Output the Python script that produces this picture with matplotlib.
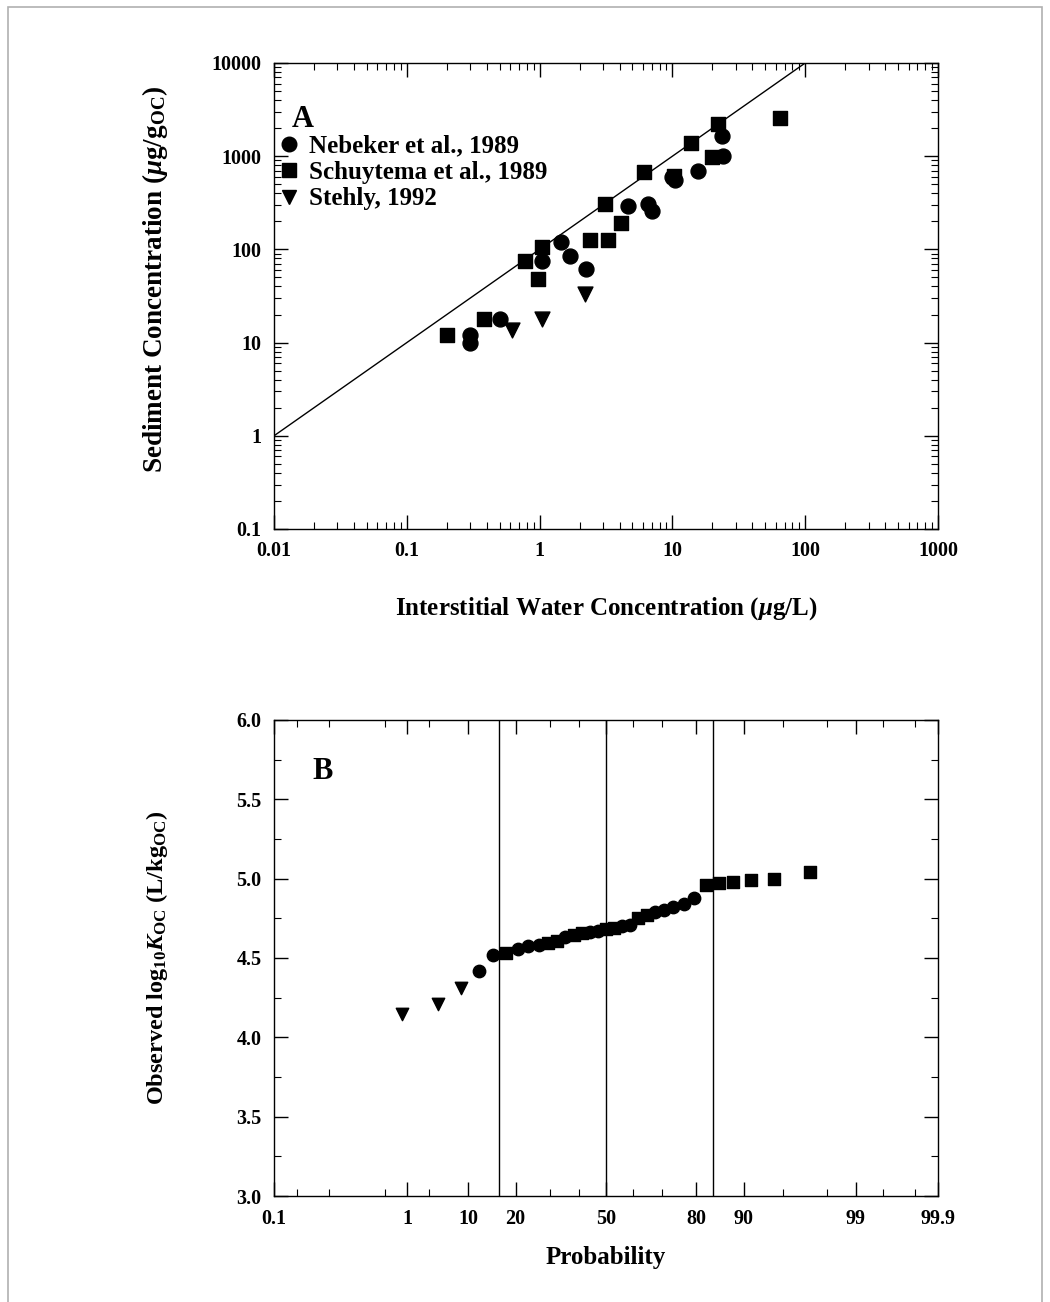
import numpy as np
import matplotlib
matplotlib.use('Agg')
import matplotlib.pyplot as plt
from matplotlib.lines import Line2D
from matplotlib.patches import Rectangle
from statistics import NormalDist

plt.rcParams['font.family'] = ['Liberation Serif', 'DejaVu Serif']
plt.rcParams['font.weight'] = 'bold'
plt.rcParams['mathtext.fontset'] = 'custom'
plt.rcParams['mathtext.rm'] = 'Liberation Serif:bold'
plt.rcParams['mathtext.it'] = 'Liberation Serif:italic:bold'
plt.rcParams['mathtext.bf'] = 'Liberation Serif:bold'

# ---------------- Panel A data ----------------
neb_water = [0.30, 0.30, 0.50, 1.05, 1.45, 1.70, 2.25, 4.6, 6.6, 7.0, 10.0, 10.5, 15.5, 23.5, 24.0]
neb_sed = [12, 10, 18, 75, 120, 85, 62, 290, 310, 260, 600, 560, 700, 1650, 1000]

sch_water = [0.20, 0.38, 0.78, 0.97, 1.05, 2.4, 3.3, 3.1, 4.1, 6.1, 10.2, 13.8, 20.0, 22.0, 65.0]
sch_sed = [12, 18, 75, 48, 105, 125, 125, 310, 190, 680, 620, 1400, 980, 2200, 2600]

ste_water = [0.62, 1.05, 2.2]
ste_sed = [13.5, 18, 33]

line_water = [0.01, 1000]
line_koc = 100  # ug/g_oc per ug/L

a_xticks = [0.01, 0.1, 1, 10, 100, 1000]
a_xlabels = ['0.01', '0.1', '1', '10', '100', '1000']
a_yticks = [0.1, 1, 10, 100, 1000, 10000]
a_ylabels = ['0.1', '1', '10', '100', '1000', '10000']

legend_labels = ['Nebeker et al., 1989', 'Schuytema et al., 1989', 'Stehly, 1992']

# ---------------- Panel B data ----------------
b_prob = [2.9, 5.9, 8.8, 11.8, 14.7, 17.6, 20.6, 23.5, 26.5, 29.4, 32.4, 35.3, 38.2, 41.2,
          44.1, 47.1, 50.0, 52.9, 55.9, 58.8, 61.8, 64.7, 67.6, 70.6, 73.5, 76.5, 79.4,
          82.4, 85.3, 88.2, 91.2, 94.1, 97.1]
b_logkoc = [4.15, 4.21, 4.31, 4.42, 4.52, 4.53, 4.555, 4.575, 4.585, 4.595, 4.61, 4.63,
            4.645, 4.655, 4.665, 4.672, 4.68, 4.69, 4.70, 4.71, 4.75, 4.77, 4.79, 4.80,
            4.82, 4.84, 4.88, 4.96, 4.97, 4.98, 4.99, 5.00, 5.04]
b_study = ['T', 'T', 'T', 'C', 'C', 'S', 'C', 'C', 'C', 'S', 'S', 'C', 'S', 'S', 'C', 'C',
           'S', 'S', 'C', 'C', 'S', 'S', 'C', 'C', 'C', 'C', 'C', 'S', 'S', 'S', 'S', 'S', 'S']

b_vlines = [15.87, 50.0, 84.13]
b_xticks = [0.1, 3.2, 10, 20, 50, 80, 90, 99, 99.9]
b_xlabels = ['0.1', '1', '10', '20', '50', '80', '90', '99', '99.9']
b_xminor = [0.2, 0.5, 2, 5, 30, 40, 60, 70, 95, 98, 99.5, 99.8]
b_yticks = [3.0, 3.5, 4.0, 4.5, 5.0, 5.5, 6.0]
b_yminor = [3.25, 3.75, 4.25, 4.75, 5.25, 5.75]

marker_of = {'C': 'o', 'S': 's', 'T': 'v'}

# ---------------- Figure ----------------
fig = plt.figure(figsize=(10.5, 13.02), dpi=100)

border = Rectangle((8 / 1050, -0.01), (1042 - 8) / 1050, 1 - 7 / 1302 + 0.01,
                   transform=fig.transFigure, fill=False, edgecolor='#b0b0b0', lw=1.2)
fig.patches.append(border)

tick_fs = 14.5
label_fs = 18

# Panel A
axA = fig.add_axes([274 / 1050, 1 - 529 / 1302, 664 / 1050, 466 / 1302])
axA.set_xscale('log')
axA.set_yscale('log')
axA.set_xlim(0.01, 1000)
axA.set_ylim(0.1, 10000)

lw_arr = np.array(line_water)
axA.plot(lw_arr, lw_arr * line_koc, color='black', lw=1.0)
axA.scatter(neb_water, neb_sed, marker='o', s=115, color='black', zorder=3)
axA.scatter(sch_water, sch_sed, marker='s', s=105, color='black', zorder=3)
axA.scatter(ste_water, ste_sed, marker='v', s=115, color='black', zorder=3)

axA.set_xticks(a_xticks)
axA.set_xticklabels(a_xlabels)
axA.set_yticks(a_yticks)
axA.set_yticklabels(a_ylabels)
axA.tick_params(which='both', direction='in', top=True, right=True, labelsize=tick_fs)
axA.tick_params(which='major', length=10, width=1, pad=9)
axA.tick_params(which='minor', length=5, width=0.8)
for sp in axA.spines.values():
    sp.set_linewidth(1.0)

axA.set_xlabel(r'Interstitial Water Concentration ($\mu$g/L)', fontsize=label_fs,
               fontweight='bold')
axA.xaxis.set_label_coords(0.5, -0.143)
axA.set_ylabel(r'Sediment Concentration ($\mu$g/g$_{\mathrm{OC}}$)', fontsize=19.5,
               fontweight='bold')
axA.yaxis.set_label_coords(-0.156, 0.536)

axA.text(0.027, 0.848, 'A', transform=axA.transAxes, fontsize=22, fontweight='bold',
         va='bottom', ha='left')
handles = [Line2D([], [], marker=m, color='black', ls='none', markersize=10.5)
           for m in ['o', 's', 'v']]
axA.legend(handles, legend_labels, loc='upper left', bbox_to_anchor=(0.010, 0.846),
           frameon=False, handlelength=0.7, handletextpad=0.45,
           labelspacing=0.13, borderaxespad=0, borderpad=0,
           prop={'weight': 'bold', 'size': 18})

# Panel B
nd = NormalDist()
_ppf = np.vectorize(lambda v: nd.inv_cdf(v / 100.0), otypes=[float])
_cdf = np.vectorize(lambda v: nd.cdf(v) * 100.0, otypes=[float])


def fwd(p):
    p = np.clip(np.asarray(p, dtype=float), 1e-9, 100 - 1e-9)
    return _ppf(p)


def inv(z):
    return _cdf(np.asarray(z, dtype=float))


axB = fig.add_axes([274 / 1050, 1 - 1196 / 1302, 664 / 1050, 476 / 1302])
axB.set_xscale('function', functions=(fwd, inv))
axB.set_xlim(0.1, 99.9)
axB.set_ylim(3.0, 6.0)

for v in b_vlines:
    axB.axvline(v, color='black', lw=1.0, zorder=1)

bp = np.array(b_prob)
bk = np.array(b_logkoc)
bs = np.array(b_study)
for code, m in marker_of.items():
    sel = bs == code
    sz = 80 if m != 's' else 75
    axB.scatter(bp[sel], bk[sel], marker=m, s=sz, color='black', zorder=3)

axB.set_xticks(b_xticks)
axB.set_xticklabels(b_xlabels)
axB.set_xticks(b_xminor, minor=True)
axB.set_yticks(b_yticks)
axB.set_yticklabels([f'{v:.1f}' for v in b_yticks])
axB.set_yticks(b_yminor, minor=True)
axB.tick_params(which='both', direction='in', top=True, right=True, labelsize=tick_fs)
axB.tick_params(which='major', length=10, width=1, pad=9)
axB.tick_params(which='minor', length=5, width=0.8)
for sp in axB.spines.values():
    sp.set_linewidth(1.0)

axB.set_xlabel('Probability', fontsize=label_fs, fontweight='bold')
axB.xaxis.set_label_coords(0.5, -0.105)
axB.set_ylabel(r'Observed log$_{10}$$K_{\mathrm{OC}}$ (L/kg$_{\mathrm{OC}}$)',
               fontsize=17.5, fontweight='bold')
axB.yaxis.set_label_coords(-0.156, 0.5)
axB.text(0.058, 0.862, 'B', transform=axB.transAxes, fontsize=22, fontweight='bold',
         va='bottom', ha='left')

fig.savefig('out.png', dpi=100, facecolor='white')
